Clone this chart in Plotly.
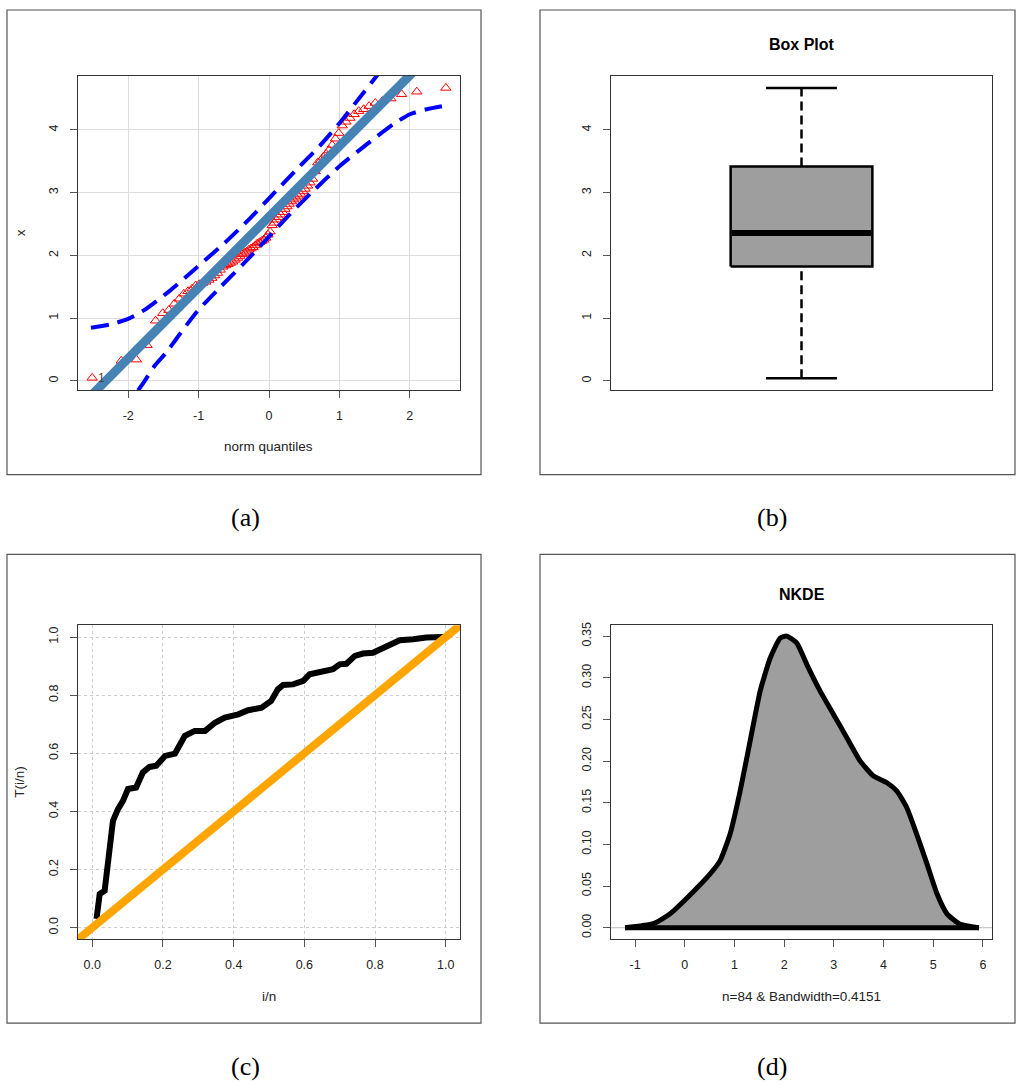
import plotly.graph_objects as go

# ---------------- data ----------------
# (a) normal QQ plot
qq_theoretical = [-2.513, -2.100, -1.884, -1.732, -1.611, -1.510, -1.423, -1.345, -1.274, -1.210,
                  -1.150, -1.094, -1.041, -0.992, -0.944, -0.898, -0.854, -0.812, -0.771, -0.732,
                  -0.693, -0.656, -0.619, -0.583, -0.549, -0.514, -0.481, -0.447, -0.415, -0.382,
                  -0.350, -0.319, -0.287, -0.256, -0.226, -0.195, -0.165, -0.135, -0.105, -0.075,
                  -0.045, -0.015, 0.015, 0.045, 0.075, 0.105, 0.135, 0.165, 0.195, 0.226,
                  0.256, 0.287, 0.319, 0.350, 0.382, 0.415, 0.447, 0.481, 0.514, 0.549,
                  0.583, 0.619, 0.656, 0.693, 0.732, 0.771, 0.812, 0.854, 0.898, 0.944,
                  0.992, 1.041, 1.094, 1.150, 1.210, 1.274, 1.345, 1.423, 1.510, 1.611,
                  1.732, 1.884, 2.100, 2.513]
qq_sample = [0.05, 0.32, 0.34, 0.57, 0.96, 1.08, 1.13, 1.23, 1.31, 1.39,
             1.43, 1.47, 1.52, 1.54, 1.56, 1.58, 1.61, 1.64, 1.68, 1.72,
             1.77, 1.82, 1.84, 1.86, 1.88, 1.90, 1.93, 1.96, 1.99, 2.02,
             2.04, 2.06, 2.09, 2.11, 2.13, 2.16, 2.19, 2.21, 2.23, 2.25,
             2.28, 2.33, 2.38, 2.48, 2.52, 2.57, 2.61, 2.65, 2.69, 2.74,
             2.78, 2.82, 2.86, 2.89, 2.92, 2.95, 2.98, 3.02, 3.06, 3.11,
             3.16, 3.22, 3.34, 3.48, 3.51, 3.57, 3.62, 3.68, 3.76, 3.86,
             3.95, 4.07, 4.13, 4.19, 4.25, 4.30, 4.33, 4.38, 4.43, 4.46,
             4.50, 4.57, 4.61, 4.67]
qq_line_intercept = 2.615
qq_line_slope = 1.127
qq_line_x = [-2.8, 2.8]
env_upper_x = [-2.53, -2.26, -2.02, -1.785, -1.406, -1.027, -0.649, -0.27, 0.061, 0.393, 0.724, 1.01, 1.34, 1.53, 1.62]
env_upper_y = [0.847, 0.90, 0.98, 1.12, 1.44, 1.81, 2.18, 2.59, 2.98, 3.37, 3.75, 4.12, 4.59, 4.86, 4.98]
env_lower_x = [-1.86, -1.761, -1.619, -1.453, -1.311, -1.027, -0.696, -0.365, -0.033, 0.298, 0.629, 1.01, 1.388, 1.766, 2.003, 2.24, 2.514]
env_lower_y = [-0.15, 0.01, 0.25, 0.46, 0.68, 1.10, 1.49, 1.865, 2.26, 2.66, 3.03, 3.43, 3.77, 4.09, 4.25, 4.33, 4.39]

# (b) box plot statistics
box_min = 0.043
box_q1 = 1.823
box_median = 2.358
box_q3 = 3.418
box_max = 4.669

# (c) TTT plot
ttt_x = [0.012, 0.021, 0.035, 0.044, 0.054, 0.0585, 0.0727, 0.0868, 0.101, 0.124,
         0.143, 0.162, 0.181, 0.206, 0.234, 0.262, 0.290, 0.319, 0.347, 0.375,
         0.413, 0.441, 0.479, 0.506, 0.525, 0.540, 0.568, 0.597, 0.615, 0.653,
         0.681, 0.700, 0.719, 0.743, 0.766, 0.794, 0.813, 0.842, 0.870, 0.908,
         0.945, 0.992, 1.0]
ttt_y = [0.030, 0.116, 0.127, 0.207, 0.310, 0.368, 0.408, 0.436, 0.477, 0.482,
         0.534, 0.553, 0.557, 0.591, 0.599, 0.660, 0.677, 0.677, 0.705, 0.723,
         0.734, 0.748, 0.757, 0.780, 0.820, 0.835, 0.837, 0.849, 0.872, 0.883,
         0.889, 0.906, 0.908, 0.935, 0.943, 0.946, 0.958, 0.975, 0.989, 0.992,
         0.998, 1.0, 1.0]
ref_line = [-0.06, 1.06]

# (d) kernel density estimate
kde_x = [-1.20, -0.631, -0.295, 0.041, 0.511, 0.712, 0.913, 1.115, 1.316, 1.518,
         1.72, 1.92, 2.055, 2.257, 2.458, 2.726, 2.994, 3.263, 3.532, 3.80,
         4.07, 4.27, 4.47, 4.67, 4.875, 5.077, 5.278, 5.546, 5.92]
kde_y = [0.0, 0.0048, 0.0167, 0.0354, 0.0646, 0.0805, 0.1124, 0.164, 0.224, 0.284,
         0.3237, 0.3476, 0.350, 0.3416, 0.3158, 0.2839, 0.256, 0.228, 0.200, 0.182,
         0.174, 0.164, 0.144, 0.112, 0.0766, 0.0407, 0.0167, 0.004, 0.0]

# ---------------- figure ----------------
W, H = 1022, 1084
SANS = "Liberation Sans, Arial, sans-serif"
SERIF = "Liberation Serif, Times New Roman, serif"
TXT = "#222222"

fig = go.Figure()

# (a)
fig.add_trace(go.Scatter(x=qq_theoretical, y=qq_sample, mode="markers",
                         marker=dict(symbol="triangle-up-open", size=9, color="red",
                                     line=dict(width=1, color="red")),
                         xaxis="x", yaxis="y", showlegend=False))
fig.add_trace(go.Scatter(x=qq_line_x,
                         y=[qq_line_intercept + qq_line_slope * v for v in qq_line_x],
                         mode="lines", line=dict(color="#4682B4", width=9),
                         xaxis="x", yaxis="y", showlegend=False))
for ex, ey in [(env_upper_x, env_upper_y), (env_lower_x, env_lower_y)]:
    fig.add_trace(go.Scatter(x=ex, y=ey, mode="lines",
                             line=dict(color="#0000FF", width=4, dash="18px,9px", shape="spline", smoothing=0.6),
                             xaxis="x", yaxis="y", showlegend=False))

# (b)
bw, cw = 0.186, 0.093
fig.add_trace(go.Scatter(x=[1 - bw, 1 + bw, 1 + bw, 1 - bw, 1 - bw],
                         y=[box_q1, box_q1, box_q3, box_q3, box_q1],
                         mode="lines", fill="toself", fillcolor="#9e9e9e",
                         line=dict(color="black", width=2.5),
                         xaxis="x2", yaxis="y2", showlegend=False))
fig.add_trace(go.Scatter(x=[1 - bw + 0.003, 1 + bw - 0.003], y=[box_median, box_median], mode="lines",
                         line=dict(color="black", width=6), xaxis="x2", yaxis="y2", showlegend=False))
for y0, y1 in [(box_q3, box_max), (box_min, box_q1)]:
    fig.add_trace(go.Scatter(x=[1, 1], y=[y0, y1], mode="lines",
                             line=dict(color="black", width=2.5, dash="9px,5px"),
                             xaxis="x2", yaxis="y2", showlegend=False))
for yv in [box_max, box_min]:
    fig.add_trace(go.Scatter(x=[1 - cw, 1 + cw], y=[yv, yv], mode="lines",
                             line=dict(color="black", width=2.5),
                             xaxis="x2", yaxis="y2", showlegend=False))

# (c)
fig.add_trace(go.Scatter(x=ttt_x, y=ttt_y, mode="lines", line=dict(color="black", width=6),
                         xaxis="x3", yaxis="y3", showlegend=False))
fig.add_trace(go.Scatter(x=ref_line, y=ref_line, mode="lines", line=dict(color="#FFA500", width=8),
                         xaxis="x3", yaxis="y3", showlegend=False))

# (d)
fig.add_trace(go.Scatter(x=[-2, 7], y=[0, 0], mode="lines", line=dict(color="#bbbbbb", width=1),
                         xaxis="x4", yaxis="y4", showlegend=False))
fig.add_trace(go.Scatter(x=kde_x, y=kde_y, mode="lines",
                         fill="tozeroy", fillcolor="#9e9e9e",
                         line=dict(color="black", width=5, shape="spline", smoothing=0.5),
                         xaxis="x4", yaxis="y4", showlegend=False))
fig.add_trace(go.Scatter(x=[kde_x[0], kde_x[-1]], y=[kde_y[0], kde_y[-1]], mode="lines",
                         line=dict(color="black", width=5),
                         xaxis="x4", yaxis="y4", showlegend=False))


def axis(domain, rng, anchor, tickvals=None, ticktext=None, grid=False, griddash="solid",
         gridcolor="#dddddd", ytick=False, showticks=True):
    d = dict(domain=domain, range=rng, anchor=anchor, showline=True, mirror=True,
             linecolor="#333333", linewidth=1, zeroline=False,
             showgrid=grid, gridcolor=gridcolor, griddash=griddash, gridwidth=1,
             ticks="outside" if showticks else "", ticklen=7, tickcolor="#555555",
             showticklabels=showticks,
             tickfont=dict(family=SANS, size=12.5, color=TXT), ticklabelstandoff=7)
    if tickvals is not None:
        d["tickmode"] = "array"
        d["tickvals"] = tickvals
        d["ticktext"] = ticktext if ticktext is not None else [str(v) for v in tickvals]
    if ytick:
        d["tickangle"] = -90
    return d


xa = [78 / W, 460 / W]
xb = [611 / W, 992 / W]
ytop = [1 - 388 / H, 1 - 73 / H]
ybot = [1 - 939 / H, 1 - 624 / H]

layout = dict(
    width=W, height=H, margin=dict(l=0, r=0, t=0, b=0),
    paper_bgcolor="white", plot_bgcolor="white", showlegend=False,
    xaxis=axis(xa, [-2.714, 2.714], "y", [-2, -1, 0, 1, 2], grid=True),
    yaxis=axis(ytop, [-0.143, 4.863], "x", [0, 1, 2, 3, 4], grid=True, ytick=True),
    xaxis2=axis(xb, [0.5, 1.5], "y2", showticks=False),
    yaxis2=axis(ytop, [-0.143, 4.863], "x2", [0, 1, 2, 3, 4], ytick=True),
    xaxis3=axis(xa, [-0.0404, 1.0404], "y3", [0, 0.2, 0.4, 0.6, 0.8, 1.0],
                ["0.0", "0.2", "0.4", "0.6", "0.8", "1.0"], grid=True, griddash="dot", gridcolor="#cccccc"),
    yaxis3=axis(ybot, [-0.0404, 1.0404], "x3", [0, 0.2, 0.4, 0.6, 0.8, 1.0],
                ["0.0", "0.2", "0.4", "0.6", "0.8", "1.0"], grid=True, griddash="dot", gridcolor="#cccccc",
                ytick=True),
    xaxis4=axis(xb, [-1.484, 6.184], "y4", [-1, 0, 1, 2, 3, 4, 5, 6]),
    yaxis4=axis(ybot, [-0.014, 0.363], "x4", [0, 0.05, 0.10, 0.15, 0.20, 0.25, 0.30, 0.35],
                ["0.00", "0.05", "0.10", "0.15", "0.20", "0.25", "0.30", "0.35"], ytick=True),
)
fig.update_layout(**layout)

# outer panel frames
for x0, x1, y0, y1 in [(7, 481, 7, 473), (540, 1015, 7, 473), (7, 481, 553, 1023), (540, 1015, 553, 1023)]:
    fig.add_shape(type="rect", xref="paper", yref="paper", x0=x0 / W, x1=x1 / W,
                  y0=1 - y1 / H, y1=1 - y0 / H, line=dict(color="#555555", width=1.2))


def note(text, px, py, size=13.5, angle=0, bold=False, family=SANS, color=TXT):
    fig.add_annotation(text=f"<b>{text}</b>" if bold else text, xref="paper", yref="paper",
                       x=px / W, y=1 - py / H, xanchor="center", yanchor="middle",
                       showarrow=False, textangle=angle,
                       font=dict(family=family, size=size, color=color))


note("norm quantiles", 268.5, 445)
note("x", 20, 231, angle=-90)
note("Box Plot", 801.5, 42, size=16, bold=True, color="black")
note("i/n", 269, 996)
note("T(i/n)", 20, 781, angle=-90)
note("NKDE", 801.5, 593, size=16, bold=True, color="black")
note("n=84 &amp; Bandwidth=0.4151", 801.5, 996)
note("(a)", 245, 516, size=26, family=SERIF, color="black")
note("(b)", 772, 516, size=26, family=SERIF, color="black")
note("(c)", 245, 1066, size=26, family=SERIF, color="black")
note("(d)", 772, 1066, size=26, family=SERIF, color="black")

# id label of the extreme QQ point
fig.add_annotation(text="1", x=qq_theoretical[0], y=qq_sample[0], xref="x", yref="y",
                   xanchor="left", yanchor="middle", xshift=4, showarrow=False,
                   font=dict(family=SANS, size=12, color="#444444"))

fig.write_html("out.html")
